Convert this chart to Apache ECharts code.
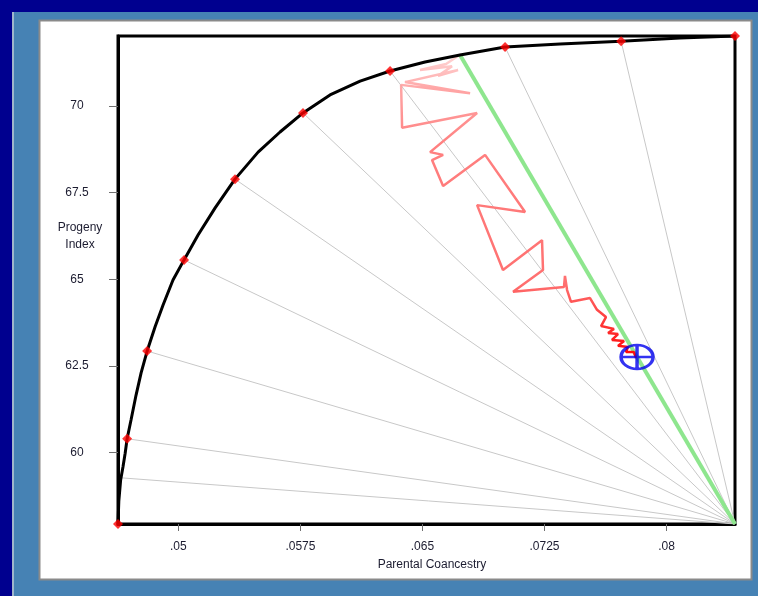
<!DOCTYPE html>
<html>
<head>
<meta charset="utf-8">
<script src="https://cdn.jsdelivr.net/npm/echarts@6/dist/echarts.min.js"></script>
<style>html,body{margin:0;padding:0;background:#00008f;}#c{width:758px;height:596px;}</style>
</head>
<body>
<div id="c"></div>
<script>
// ---- data ----
const xTicks = [0.05, 0.0575, 0.065, 0.0725, 0.08];
const xTickLabels = ['.05', '.0575', '.065', '.0725', '.08'];
const yTicks = [60, 62.5, 65, 67.5, 70];
const yTickLabels = ['60', '62.5', '65', '67.5', '70'];
const xMin = 0.04629, xMax = 0.08421;
const yMin = 57.94, yMax = 72.02;

const frontierX = [0.04629,0.04634,0.04645,0.04660,0.04673,0.04685,0.04709,0.04740,0.04771,0.04808,0.04857,0.04906,0.04967,0.05035,0.05121,0.05226,0.05348,0.05490,0.05625,0.05766,0.05932,0.06117,0.06301,0.06516,0.06731,0.07008,0.07346,0.07721,0.08083,0.08421];
const frontierY = [57.94,58.60,59.20,59.60,59.98,60.40,60.94,61.66,62.30,62.93,63.63,64.26,64.98,65.56,66.28,67.06,67.89,68.67,69.25,69.80,70.32,70.72,71.01,71.27,71.47,71.70,71.79,71.87,71.96,72.02];

const markerX = [0.04629,0.04685,0.04808,0.05035,0.05348,0.05766,0.06301,0.07008,0.07721,0.08421];
const markerY = [57.94,60.40,62.93,65.56,67.89,69.80,71.01,71.70,71.87,72.02];

const cornerX = 0.08421, cornerY = 57.94;
const fanX = [0.04654,0.04685,0.04808,0.05035,0.05348,0.05766,0.06301,0.07008,0.07721];
const fanY = [59.27,60.40,62.93,65.56,67.89,69.80,71.01,71.70,71.87];

const greenX = [0.06731, 0.08421];
const greenY = [71.47, 57.94];

const pathX = [0.06737,0.06645,0.06485,0.06682,0.06596,0.06719,0.06393,0.06793,0.06369,0.06375,0.06836,0.06547,0.06627,0.06559,0.06627,0.06885,0.07131,0.06836,0.06995,0.07235,0.07241,0.07057,0.07370,0.07376,0.07389,0.07413,0.07530,0.07573,0.07628,0.07598,0.07677,0.07641,0.07702,0.07665,0.07739,0.07702,0.07764,0.07751,0.07800,0.07813];
const pathY = [71.50,71.21,71.04,71.15,70.87,71.04,70.69,70.37,70.61,69.37,69.80,68.67,68.59,68.44,67.69,68.59,66.94,67.14,65.27,66.13,65.27,64.64,64.78,65.10,64.69,64.35,64.46,64.12,63.91,63.65,63.57,63.45,63.42,63.25,63.22,63.08,63.05,62.90,62.90,62.73];

const targetX = [0.07819];
const targetY = [62.76];

// ---- build ----
const zip = (a, b) => a.map((v, i) => [v, b[i]]);
const font = 'Liberation Sans, Arial, sans-serif';
const txtColor = '#1c1c30';

const chart = echarts.init(document.getElementById('c'));
chart.setOption({
  backgroundColor: '#00008f',
  animation: false,
  graphic: [
    { type: 'rect', z: -10, shape: { x: 12, y: 12, width: 746, height: 584 }, style: { fill: '#4682b4' } },
    { type: 'rect', z: -10, shape: { x: 12, y: 12, width: 2, height: 584 }, style: { fill: '#9fb6cc' } },
    { type: 'rect', z: -9, shape: { x: 39.5, y: 20.5, width: 712, height: 559 }, style: { fill: '#ffffff', stroke: '#8a8a8a', lineWidth: 2 } },
    { type: 'text', z: 10, style: { text: 'Progeny\nIndex', x: 80, y: 236, align: 'center', verticalAlign: 'middle', font: '12px ' + font, fill: txtColor, lineHeight: 17 } },
    { type: 'text', z: 10, style: { text: 'Parental Coancestry', x: 432, y: 565, align: 'center', verticalAlign: 'middle', font: '12px ' + font, fill: txtColor } }
  ],
  grid: { left: 118, right: 23, top: 36, bottom: 72, show: true, borderColor: '#000', borderWidth: 3, backgroundColor: '#fff', z: 0 },
  xAxis: {
    type: 'value', min: xMin, max: xMax,
    axisLine: { lineStyle: { color: '#000', width: 3 } },
    axisTick: { customValues: xTicks, length: 7, lineStyle: { color: '#707070', width: 1 } },
    axisLabel: { customValues: xTicks, margin: 17, fontFamily: font, fontSize: 12, color: txtColor,
      formatter: v => { const i = xTicks.findIndex(t => Math.abs(t - v) < 1e-9); return i >= 0 ? xTickLabels[i] : ''; } },
    splitLine: { show: false }
  },
  yAxis: {
    type: 'value', min: yMin, max: yMax,
    axisLine: { show: true, lineStyle: { color: '#000', width: 3 } },
    axisTick: { show: true, customValues: yTicks, length: 9, lineStyle: { color: '#707070', width: 1 } },
    axisLabel: { customValues: yTicks, margin: 41, align: 'center', fontFamily: font, fontSize: 12, color: txtColor,
      formatter: v => { const i = yTicks.findIndex(t => Math.abs(t - v) < 1e-9); return i >= 0 ? yTickLabels[i] : ''; } },
    splitLine: { show: false }
  },
  series: [
    { type: 'lines', coordinateSystem: 'cartesian2d', z: 1, silent: true,
      lineStyle: { color: '#c8c8c8', width: 1, opacity: 1 },
      data: fanX.map((x, i) => ({ coords: [[cornerX, cornerY], [x, fanY[i]]] })) },
    { type: 'line', z: 2, data: zip(greenX, greenY), showSymbol: false, lineStyle: { color: '#8ee68e', width: 4 } },
    { type: 'line', z: 3, data: zip(pathX, pathY), showSymbol: false,
      lineStyle: { width: 2.5, color: new echarts.graphic.LinearGradient(0, 0, 0, 1, [
        { offset: 0, color: 'rgba(255,190,190,0.6)' },
        { offset: 0.12, color: 'rgba(255,150,150,0.85)' },
        { offset: 0.3, color: '#ff8080' },
        { offset: 0.75, color: '#ff7070' },
        { offset: 0.86, color: '#ff4040' },
        { offset: 1, color: '#ff0000' }
      ]) } },
    { type: 'line', z: 4, data: zip(frontierX, frontierY), showSymbol: false, lineStyle: { color: '#000', width: 3 } },
    { type: 'scatter', z: 5, data: zip(markerX, markerY), symbol: 'diamond', symbolSize: 10, itemStyle: { color: '#ff0000' } },
    { type: 'scatter', z: 6, data: zip(targetX, targetY),
      symbol: 'path://M0,50 A50,50 0 1,1 100,50 A50,50 0 1,1 0,50 Z M0,50 L100,50 M50,0 L50,100',
      symbolSize: [32, 24], itemStyle: { color: 'none', borderColor: '#0000ee', borderWidth: 3 } }
  ]
});
</script>
</body>
</html>
